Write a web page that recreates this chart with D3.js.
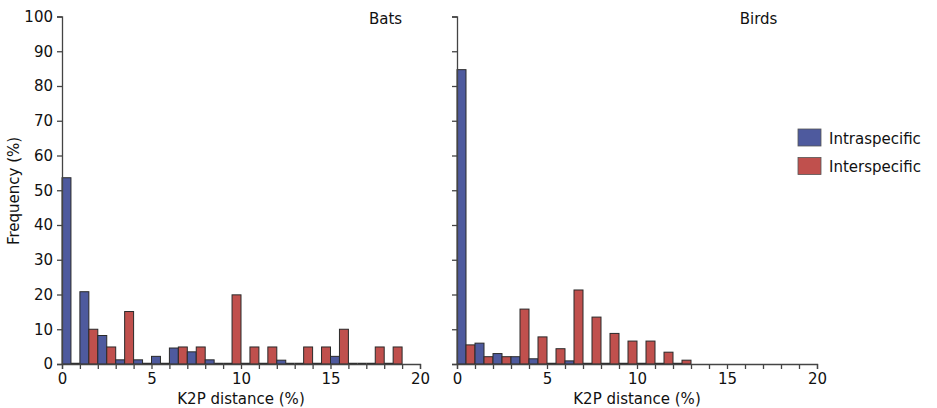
<!DOCTYPE html>
<html>
<head>
<meta charset="utf-8">
<script src="https://cdn.jsdelivr.net/npm/d3@7"></script>
<style>
  body { margin: 0; background: #fff; }
  text { font-family: "DejaVu Sans", Verdana, sans-serif; fill: #111; }
</style>
</head>
<body>
<script>
// bins of K2P distance (%), one per unit
var bins = [0, 1, 2, 3, 4, 5, 6, 7, 8, 9, 10, 11, 12, 13, 14, 15, 16, 17, 18, 19];

var batsIntra = [53.6, 20.8, 8.2, 1.2, 1.2, 2.2, 4.6, 3.5, 1.2, 0, 0, 0, 1.1, 0, 0, 2.2, 0, 0, 0, 0];
var batsInter = [0, 10, 4.9, 15.1, 0, 0, 4.9, 4.9, 0, 19.9, 4.9, 4.9, 0, 4.9, 4.9, 10, 0, 4.9, 4.9, 0];
var birdsIntra = [84.7, 6.0, 3.0, 2.1, 1.5, 0, 0.9, 0, 0, 0, 0, 0, 0, 0, 0, 0, 0, 0, 0, 0];
var birdsInter = [5.5, 2.1, 2.1, 15.8, 7.8, 4.4, 21.3, 13.5, 8.8, 6.6, 6.6, 3.4, 1.1, 0, 0, 0, 0, 0, 0, 0];

var xTicks = [0, 5, 10, 15, 20];
var yTicks = [0, 10, 20, 30, 40, 50, 60, 70, 80, 90, 100];
var seriesNames = ["Intraspecific", "Interspecific"];
var colors = ["#4e5a9e", "#c0504d"];

var width = 937, height = 408;
var svg = d3.select("body").append("svg")
    .attr("width", width)
    .attr("height", height);

var y = d3.scaleLinear().domain([0, 100]).range([364, 16.5]);

var panels = [
    {title: "Bats", left: 62, right: 420, intra: batsIntra, inter: batsInter, labels: true, titleAt: 19.0},
    {title: "Birds", left: 457, right: 817, intra: birdsIntra, inter: birdsInter, labels: false, titleAt: 17.8}
];

panels.forEach(function (p) {
    var x = d3.scaleLinear().domain([0, 20]).range([p.left, p.right]);
    var g = svg.append("g");

    // last bin holding any value, zero bars are drawn up to there
    var last = 0;
    bins.forEach(function (b, i) { if (p.intra[i] > 0 || p.inter[i] > 0) last = i; });

    var bars = [];
    bins.forEach(function (b, i) {
        if (i > last) return;
        bars.push({x0: b, x1: b + 0.5, v: p.intra[i], c: colors[0]});
        bars.push({x0: b + 0.5, x1: b + 1, v: p.inter[i], c: colors[1]});
    });

    g.selectAll("rect.bar")
        .data(bars.filter(function (d) { return d.v > 0; }))
        .enter().append("rect")
        .attr("class", "bar")
        .attr("x", function (d) { return x(d.x0); })
        .attr("width", function (d) { return x(d.x1) - x(d.x0); })
        .attr("y", function (d) { return y(d.v); })
        .attr("height", function (d) { return y(0) - y(d.v); })
        .attr("fill", function (d) { return d.c; })
        .attr("stroke", "#2a2a2a")
        .attr("stroke-width", 1);

    g.selectAll("line.zero")
        .data(bars.filter(function (d) { return d.v === 0; }))
        .enter().append("line")
        .attr("class", "zero")
        .attr("x1", function (d) { return x(d.x0); })
        .attr("x2", function (d) { return x(d.x1); })
        .attr("y1", y(0) - 0.5)
        .attr("y2", y(0) - 0.5)
        .attr("stroke", "#2a2a2a")
        .attr("stroke-width", 1.5);

    // x axis
    var xAxis = d3.axisBottom(x)
        .tickValues(d3.range(0, 21))
        .tickSize(5)
        .tickFormat(function (d) { return xTicks.indexOf(d) >= 0 ? d : ""; });
    var gx = g.append("g")
        .attr("transform", "translate(0," + y(0) + ")")
        .call(xAxis);
    gx.selectAll("text").style("font-size", "15px").attr("dy", "0.95em").attr("y", 6);

    // y axis
    var yAxis = d3.axisLeft(y)
        .tickValues(yTicks)
        .tickSize(5)
        .tickFormat(p.labels ? d3.format("d") : "");
    var gy = g.append("g")
        .attr("transform", "translate(" + p.left + ",0)")
        .call(yAxis);
    gy.selectAll("text").style("font-size", "15px").attr("x", -9);

    [gx, gy].forEach(function (a) {
        a.select(".domain").attr("stroke", "#444").attr("stroke-width", 1.3);
        a.selectAll(".tick line").attr("stroke", "#444").attr("stroke-width", 1.3);
    });

    g.append("text")
        .attr("x", (x(0) + x(20)) / 2)
        .attr("y", 404)
        .attr("text-anchor", "middle")
        .style("font-size", "15px")
        .text("K2P distance (%)");

    g.append("text")
        .attr("x", x(p.titleAt))
        .attr("y", 24)
        .attr("text-anchor", "end")
        .style("font-size", "15px")
        .text(p.title);
});

svg.append("text")
    .attr("transform", "translate(19,191) rotate(-90)")
    .attr("text-anchor", "middle")
    .style("font-size", "15px")
    .text("Frequency (%)");

// legend
var legend = svg.append("g").attr("transform", "translate(798,129)");
seriesNames.forEach(function (name, i) {
    legend.append("rect")
        .attr("x", 0)
        .attr("y", i * 28.5)
        .attr("width", 23)
        .attr("height", 17)
        .attr("fill", colors[i])
        .attr("stroke", "#555")
        .attr("stroke-width", 0.8);
    legend.append("text")
        .attr("x", 31)
        .attr("y", i * 28.5 + 14.5)
        .style("font-size", "15px")
        .text(name);
});
</script>
</body>
</html>
